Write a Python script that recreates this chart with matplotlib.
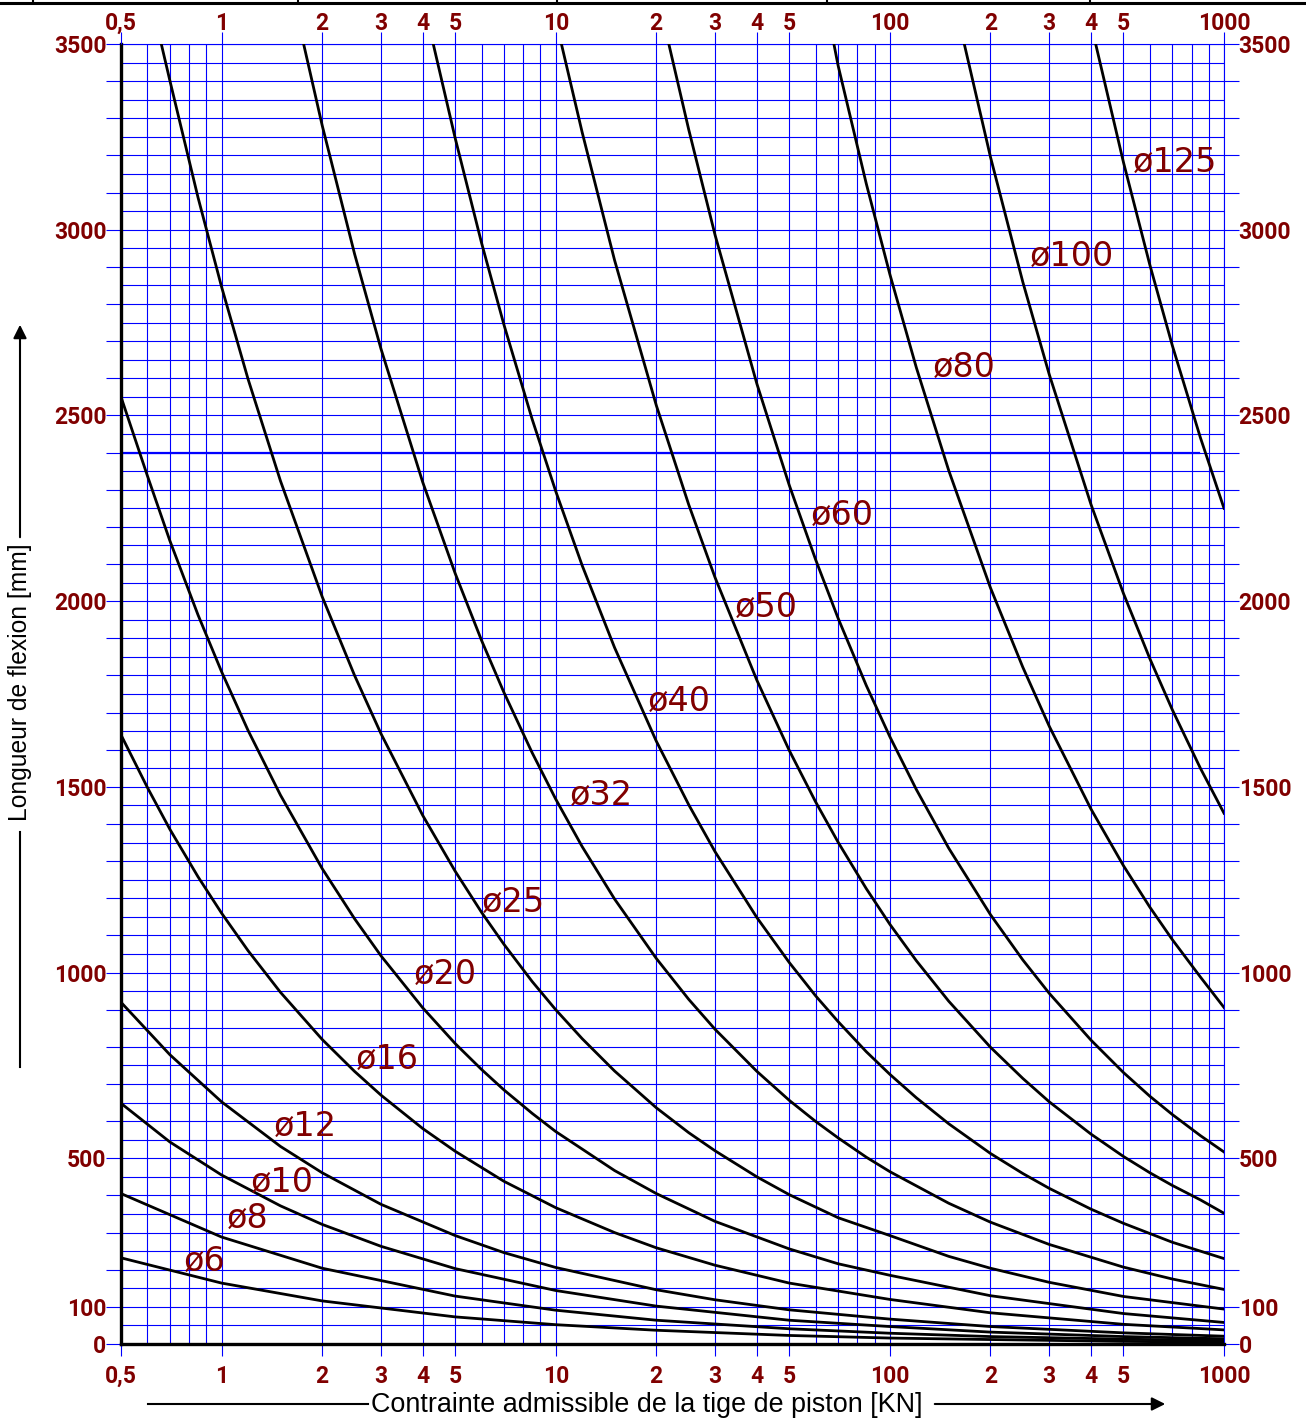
import numpy as np
import matplotlib
matplotlib.use("Agg")
import matplotlib.pyplot as plt
from matplotlib.ticker import FixedLocator, FixedFormatter, NullFormatter
from matplotlib.lines import Line2D
from matplotlib.patches import FancyArrowPatch

# ---------------- data ----------------
# permissible piston-rod load [kN] (x) and buckling length [mm] (y), one pair of lists per rod diameter
d6_force = [0.5, 1, 2, 5, 10, 20, 50, 100, 200, 500, 1000]
d6_length = [232, 164, 116, 73, 52, 37, 23, 16, 12, 7, 5]

d8_force = [0.5, 1, 2, 5, 10, 20, 50, 100, 200, 500, 1000]
d8_length = [405, 288, 204, 129, 91, 64, 41, 29, 20, 13, 9]

d10_force = [0.5, 0.7, 1, 1.5, 2, 3, 5, 10, 20, 50, 100, 200, 500, 1000]
d10_length = [648, 544, 455, 372, 322, 263, 203, 144, 102, 64, 47, 32, 20, 14]

d12_force = [0.5, 0.7, 1, 1.5, 2, 3, 5, 7, 10, 20, 30, 50, 100, 200, 500, 1000]
d12_length = [920, 779, 652, 532, 461, 376, 292, 246, 206, 146, 119, 92, 67, 47, 30, 21]

d16_force = [0.5, 0.6, 0.7, 0.85, 1, 1.2, 1.5, 2, 2.5, 3, 4, 5, 7, 10, 15, 20, 30, 50, 100, 200, 500, 1000]
d16_length = [1640, 1498, 1386, 1258, 1160, 1059, 947, 820, 734, 670, 580, 519, 438, 367,
              300, 259, 212, 164, 120, 84, 53, 38]

d20_force = [0.5, 0.6, 0.7, 0.85, 1, 1.2, 1.5, 2, 2.5, 3, 4, 5, 6, 7, 8.5, 10, 15, 20, 30,
             50, 70, 100, 200, 500, 1000]
d20_length = [2550, 2337, 2163, 1963, 1810, 1652, 1478, 1280, 1145, 1045, 905, 809, 739, 684,
              621, 572, 467, 405, 330, 256, 216, 185, 130, 82, 58]

d25_force = [0.66, 0.7, 0.85, 1, 1.2, 1.5, 2, 2.5, 3, 4, 5, 6, 7, 8.5, 10, 12, 15, 20, 25, 30,
             40, 50, 70, 100, 150, 200, 300, 500, 1000]
d25_length = [3500, 3402, 3087, 2846, 2598, 2324, 2012, 1800, 1643, 1423, 1273, 1162, 1076, 976,
              900, 822, 735, 636, 569, 520, 450, 402, 340, 292, 236, 204, 166, 128, 94]

d32_force = [1.76, 2, 2.5, 3, 4, 5, 6, 7, 8.5, 10, 12, 15, 20, 25, 30, 40, 50, 60, 70, 85, 100,
             150, 200, 300, 500, 700, 1000]
d32_length = [3500, 3281, 2935, 2679, 2320, 2075, 1894, 1754, 1592, 1467, 1339, 1198, 1038, 928,
              847, 734, 656, 599, 555, 503, 464, 379, 328, 268, 207, 175, 147]

d40_force = [4.3, 5, 6, 7, 8.5, 10, 12, 15, 20, 25, 30, 40, 50, 60, 70, 85, 100, 120, 150, 200,
             250, 300, 400, 500, 700, 1000]
d40_length = [3500, 3247, 2964, 2744, 2490, 2296, 2096, 1875, 1623, 1452, 1325, 1148, 1027, 937,
              868, 787, 726, 663, 593, 513, 459, 419, 363, 325, 274, 230]

d50_force = [10.4, 12, 15, 20, 25, 30, 40, 50, 60, 70, 85, 100, 120, 150, 200, 250, 300, 400,
             500, 600, 700, 850, 1000]
d50_length = [3500, 3262, 2918, 2527, 2260, 2063, 1787, 1598, 1459, 1351, 1226, 1130, 1032, 923,
              799, 715, 652, 565, 505, 461, 427, 388, 352]

d60_force = [21.8, 25, 30, 40, 50, 60, 70, 85, 100, 120, 150, 200, 250, 300, 400, 500, 600, 700,
             850, 1000]
d60_length = [3500, 3270, 2985, 2585, 2312, 2111, 1954, 1773, 1635, 1493, 1335, 1156, 1034, 944,
              818, 731, 667, 618, 561, 517]

d80_force = [68, 70, 85, 100, 120, 150, 200, 250, 300, 400, 500, 600, 700, 850, 1000]
d80_length = [3500, 3442, 3124, 2880, 2629, 2352, 2036, 1822, 1663, 1440, 1288, 1176, 1089, 988, 906]

d100_force = [167, 200, 250, 300, 400, 500, 600, 700, 850, 1000]
d100_length = [3500, 3196, 2859, 2610, 2260, 2021, 1845, 1708, 1550, 1429]

d125_force = [413, 500, 600, 700, 850, 1000]
d125_length = [3500, 3182, 2905, 2689, 2440, 2250]

curve_names = ["ø6", "ø8", "ø10", "ø12", "ø16", "ø20", "ø25", "ø32", "ø40", "ø50", "ø60",
               "ø80", "ø100", "ø125"]
curve_forces = [d6_force, d8_force, d10_force, d12_force, d16_force, d20_force, d25_force,
                d32_force, d40_force, d50_force, d60_force, d80_force, d100_force, d125_force]
curve_lengths = [d6_length, d8_length, d10_length, d12_length, d16_length, d20_length,
                 d25_length, d32_length, d40_length, d50_length, d60_length, d80_length,
                 d100_length, d125_length]

# highlighted reference length
ref_length = 2400
ref_force_end = 840

# axis ticks / labels
x_major = [0.5, 1, 2, 3, 4, 5, 10, 20, 30, 40, 50, 100, 200, 300, 400, 500, 1000]
x_labels = ["0,5", "1", "2", "3", "4", "5", "10", "2", "3", "4", "5", "100", "2", "3", "4",
            "5", "1000"]
x_minor = [0.6, 0.7, 0.8, 0.9, 6, 7, 8, 9, 60, 70, 80, 90, 600, 700, 800, 900]
y_labelled = [0, 100, 500, 1000, 1500, 2000, 2500, 3000, 3500]

# label anchor positions (left edge, vertical centre) in data units
label_pos = [(0.77, 221), (1.04, 339), (1.22, 436), (1.43, 587), (2.52, 765), (3.77, 994),
             (6.02, 1190), (11.0, 1478), (18.8, 1729), (34.4, 1982), (58.1, 2232),
             (134, 2628), (263, 2929), (535, 3180)]

# ---------------- figure ----------------
plt.rcParams["font.family"] = ["Roboto", "DejaVu Sans"]
plt.rcParams["font.weight"] = "bold"

W, H = 1306, 1421
DARKRED = "#800000"
BLUE = "#0000ff"

def fx(px):
    return px / W

def fy(py):
    return 1 - py / H

fig = plt.figure(figsize=(W / 100, H / 100), dpi=100)
ax = fig.add_axes([fx(121), fy(1344), 1103 / W, 1300 / H])
ax.set_xscale("log")
ax.set_xlim(0.5, 1000)
ax.set_ylim(0, 3500)

ax.xaxis.set_major_locator(FixedLocator(x_major))
ax.xaxis.set_major_formatter(FixedFormatter(x_labels))
ax.xaxis.set_minor_locator(FixedLocator(x_minor))
ax.xaxis.set_minor_formatter(NullFormatter())

y_major = list(range(0, 3501, 100))
ax.yaxis.set_major_locator(FixedLocator(y_major))
ax.yaxis.set_major_formatter(FixedFormatter([str(v) if v in y_labelled else "" for v in y_major]))
ax.yaxis.set_minor_locator(FixedLocator(list(range(50, 3500, 100))))
ax.yaxis.set_minor_formatter(NullFormatter())

ax.set_axisbelow(True)
ax.grid(which="both", color=BLUE, lw=0.8)
ax.tick_params(which="minor", length=0)
ax.tick_params(axis="x", which="major", direction="out", length=8.6, width=0.8, color=BLUE,
               pad=6.5, labelsize=16.5, labelcolor=DARKRED, bottom=True, top=False,
               labelbottom=True, labeltop=False)
ax.tick_params(axis="y", which="major", direction="out", length=10.5, width=0.8, color=BLUE,
               pad=0, labelsize=16.5, labelcolor=DARKRED, left=True, right=True,
               labelleft=True, labelright=True)

for s in ["left", "bottom"]:
    ax.spines[s].set_color("black")
    ax.spines[s].set_linewidth(2.4)
    ax.spines[s].set_zorder(5)
for s in ["top", "right"]:
    ax.spines[s].set_color(BLUE)
    ax.spines[s].set_linewidth(0.8)

# top axis
ax2 = ax.twiny()
ax2.set_xscale("log")
ax2.set_xlim(0.5, 1000)
ax2.xaxis.set_major_locator(FixedLocator(x_major))
ax2.xaxis.set_major_formatter(FixedFormatter(x_labels))
ax2.xaxis.set_minor_locator(FixedLocator(x_minor))
ax2.xaxis.set_minor_formatter(NullFormatter())
ax2.tick_params(which="minor", length=0)
ax2.tick_params(axis="x", which="major", direction="out", length=8.6, width=0.8, color=BLUE,
                pad=-2, labelsize=16.5, labelcolor=DARKRED)
for s in ax2.spines.values():
    s.set_visible(False)

# highlighted line
ax.plot([0.5, ref_force_end], [ref_length, ref_length], color=BLUE, lw=1.6, zorder=2)

# curves
for f, l in zip(curve_forces, curve_lengths):
    ax.plot(f, l, color="black", lw=2.0, solid_joinstyle="round", zorder=3)

for name, (lx, ly) in zip(curve_names, label_pos):
    ax.text(lx, ly, name, fontsize=24, color=DARKRED, ha="left", va="center",
            family="DejaVu Sans", weight="normal", zorder=4)

# axis titles with arrows
fig.text(fx(647), fy(1405), "Contrainte admissible de la tige de piston [KN]",
         family="Liberation Sans", weight="normal", fontsize=19.4, ha="center", va="center")
fig.add_artist(Line2D([fx(148), fx(368)], [fy(1404), fy(1404)], color="black", lw=1.5))
fig.add_artist(FancyArrowPatch((fx(932), fy(1404)), (fx(1168), fy(1404)),
                               transform=fig.transFigure, arrowstyle="-|>",
                               mutation_scale=20, lw=1.5, color="black"))

fig.text(fx(20), fy(682), "Longueur de flexion [mm]", rotation=90,
         family="Liberation Sans", weight="normal", fontsize=17.7, ha="center", va="center")
fig.add_artist(Line2D([fx(20), fx(20)], [fy(832), fy(1067)], color="black", lw=1.5))
fig.add_artist(FancyArrowPatch((fx(20), fy(540)), (fx(20), fy(322)),
                               transform=fig.transFigure, arrowstyle="-|>",
                               mutation_scale=20, lw=1.5, color="black"))

# top border strip
fig.add_artist(Line2D([0, 1], [fy(3), fy(3)], color="black", lw=2.2))
for px in [33, 298, 557, 827, 1090]:
    fig.add_artist(Line2D([fx(px), fx(px)], [fy(0), fy(3)], color="black", lw=1.5))

fig.savefig("out.png", dpi=100)
